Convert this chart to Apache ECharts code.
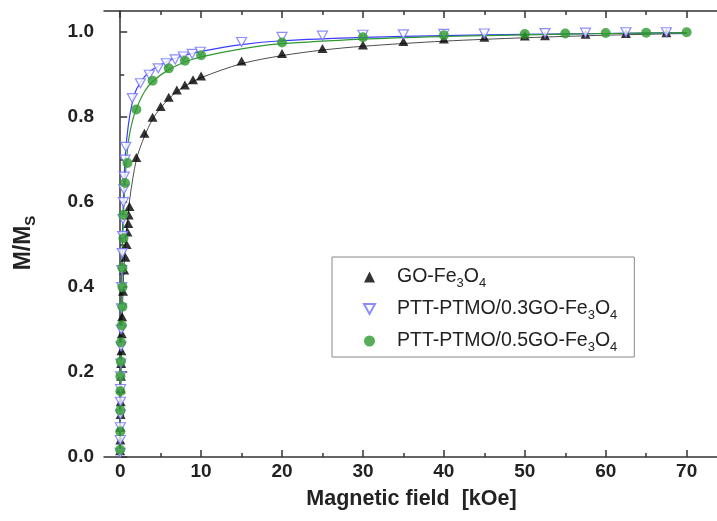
<!DOCTYPE html>
<html>
<head>
<meta charset="utf-8">
<script src="https://cdn.jsdelivr.net/npm/echarts@6/dist/echarts.min.js"></script>
<style>
  html, body { margin: 0; padding: 0; background: #fff; }
  #chart { width: 717px; height: 521px; }
</style>
</head>
<body>
<div id="chart"></div>
<script>
// ---- data ----
const seriesNames = ['GO-Fe3O4', 'PTT-PTMO/0.3GO-Fe3O4', 'PTT-PTMO/0.5GO-Fe3O4'];

const goPoints = [
  [0, 0.015], [0.02, 0.04], [0.03, 0.07], [0.05, 0.10], [0.06, 0.13], [0.08, 0.16],
  [0.10, 0.19], [0.12, 0.22], [0.15, 0.25], [0.20, 0.29], [0.25, 0.33], [0.35, 0.39],
  [0.50, 0.44], [0.65, 0.47], [0.80, 0.50], [0.90, 0.53], [1.0, 0.55], [1.05, 0.57],
  [1.15, 0.59], [2, 0.705], [3, 0.762], [4, 0.80], [5, 0.825], [6, 0.847], [7, 0.864],
  [8, 0.876], [9, 0.888], [10, 0.897], [15, 0.932], [20, 0.950], [25, 0.962],
  [30, 0.970], [35, 0.978], [40, 0.984], [45, 0.988], [50, 0.991], [52.5, 0.992],
  [57.5, 0.995], [62.5, 0.997], [67.5, 0.999]
];
const go03Points = [
  [0, 0.01], [0.01, 0.04], [0.02, 0.07], [0.03, 0.10], [0.04, 0.13], [0.05, 0.16],
  [0.06, 0.19], [0.08, 0.22], [0.10, 0.26], [0.12, 0.30], [0.15, 0.35], [0.18, 0.40],
  [0.20, 0.44], [0.25, 0.48], [0.30, 0.52], [0.35, 0.56], [0.40, 0.60], [0.45, 0.63],
  [0.50, 0.66], [0.60, 0.70], [0.70, 0.73], [1.5, 0.845], [2.5, 0.88], [3.6, 0.90],
  [4.7, 0.915], [5.7, 0.927], [6.8, 0.936], [7.8, 0.943], [8.9, 0.949], [9.9, 0.954],
  [15, 0.977], [20, 0.989], [25, 0.992], [30, 0.994], [35, 0.995], [40, 0.996],
  [45, 0.997], [52.5, 0.998], [57.5, 0.999], [62.5, 1.0], [67.5, 1.0]
];
const go05Points = [
  [0, 0.017], [0.01, 0.06], [0.02, 0.11], [0.02, 0.155], [0.03, 0.19], [0.08, 0.225],
  [0.10, 0.27], [0.20, 0.31], [0.28, 0.354], [0.28, 0.40], [0.28, 0.445], [0.40, 0.515],
  [0.40, 0.57], [0.60, 0.645], [0.90, 0.692], [2, 0.818], [4, 0.886], [6, 0.915],
  [8, 0.933], [10, 0.946], [20, 0.976], [30, 0.988], [40, 0.993], [50, 0.996],
  [55, 0.997], [60, 0.998], [65, 0.999], [70, 1.0]
];

// fitted curves
const goFit = [
  [0, 0], [0.1, 0.2], [0.2, 0.3], [0.5, 0.46], [0.75, 0.53], [1.2, 0.61], [2, 0.70],
  [3, 0.755], [4, 0.795], [5, 0.822], [6, 0.843], [7, 0.86], [8, 0.873], [10, 0.893],
  [15, 0.926], [20, 0.945], [25, 0.958], [30, 0.967], [40, 0.979], [50, 0.987],
  [60, 0.993], [70, 0.997]
];
const go03Fit = [
  [0, 0], [0.1, 0.3], [0.3, 0.54], [0.6, 0.70], [1, 0.78], [1.5, 0.835], [2, 0.865],
  [3, 0.895], [4, 0.912], [6, 0.933], [8, 0.946], [10, 0.955], [15, 0.971], [20, 0.980],
  [30, 0.988], [40, 0.992], [50, 0.995], [60, 0.997], [70, 0.999]
];
const go05Fit = [
  [0, 0], [0.1, 0.27], [0.3, 0.50], [0.6, 0.65], [1, 0.74], [1.5, 0.79], [2, 0.82],
  [3, 0.86], [4, 0.884], [6, 0.912], [8, 0.93], [10, 0.942], [15, 0.961], [20, 0.973],
  [30, 0.984], [40, 0.99], [50, 0.994], [60, 0.997], [70, 0.999]
];

const xTicks = [0, 10, 20, 30, 40, 50, 60, 70];
const xMinorTicks = [5, 15, 25, 35, 45, 55, 65];
const yTicks = [0, 0.2, 0.4, 0.6, 0.8, 1.0];
const yMinorTicks = [0.1, 0.3, 0.5, 0.7, 0.9];

// ---- chart ----
const FONT = 'Liberation Sans, Arial, sans-serif';
const AXIS_COLOR = '#333';
const chart = echarts.init(document.getElementById('chart'), null, { renderer: 'canvas' });

const legendRich = {
  pad: { width: 17 },
  n: { fontSize: 19.5, fontFamily: FONT, color: '#222', lineHeight: 23 },
  s: { fontSize: 13, fontFamily: FONT, color: '#222', lineHeight: 23, padding: [13, 0, 0, 0] }
};
function subFormat(name) {
  const base = name.replace(/Fe3O4$/, '');
  return '{pad|}{n|' + base + 'Fe}{s|3}{n|O}{s|4}';
}

function xAxisDef(position, values, len, showLine, showLabel) {
  return {
    type: 'value', position: position, min: -2, max: 74, gridIndex: 0,
    axisLine: { show: showLine, lineStyle: { color: AXIS_COLOR, width: 1.5 } },
    axisTick: { show: true, inside: true, length: len, customValues: values,
                lineStyle: { color: AXIS_COLOR, width: 1.5 } },
    axisLabel: { show: showLabel, customValues: values, margin: 5, fontSize: 19,
                 fontWeight: 'bold', fontFamily: FONT, color: '#222' },
    splitLine: { show: false }
  };
}
function yAxisDef(values, len, showLine, showLabel) {
  return {
    type: 'value', position: 'left', min: 0, max: 1.05, offset: 0,
    axisLine: { show: showLine, lineStyle: { color: AXIS_COLOR, width: 1.5 } },
    axisTick: { show: true, inside: true, length: len, customValues: values,
                lineStyle: { color: AXIS_COLOR, width: 1.5 } },
    axisLabel: { show: showLabel, customValues: values, margin: 10, fontSize: 19,
                 fontWeight: 'bold', fontFamily: FONT, color: '#222',
                 formatter: v => v.toFixed(1) },
    splitLine: { show: false }
  };
}

const xMain = xAxisDef('bottom', xTicks, 7, true, true);
xMain.name = 'Magnetic field  [kOe]';
xMain.nameLocation = 'middle';
xMain.nameGap = 30;
xMain.nameTextStyle = { fontSize: 21.5, fontWeight: 'bold', fontFamily: FONT, color: '#222', lineHeight: 24 };

const yMain = yAxisDef(yTicks, 7, true, true);
yMain.name = '{a|M/M}{b|S}';
yMain.nameLocation = 'middle';
yMain.nameRotate = 90;
yMain.nameGap = 67;
yMain.nameTextStyle = {
  padding: [0, 18, 0, 0],
  rich: {
    a: { fontSize: 23, fontWeight: 'bold', fontFamily: FONT, color: '#222', lineHeight: 26 },
    b: { fontSize: 15, fontWeight: 'bold', fontFamily: FONT, color: '#222', lineHeight: 26, padding: [14, 0, 0, 0] }
  }
};

const option = {
  backgroundColor: '#fff',
  animation: false,
  grid: { left: 104, top: 11, width: 615, height: 446, outerBoundsMode: 'none', containLabel: false },
  xAxis: [
    xMain,
    xAxisDef('bottom', xMinorTicks, 4, false, false),
    xAxisDef('top', xTicks, 7, true, false),
    xAxisDef('top', xMinorTicks, 4, false, false)
  ],
  yAxis: [
    yMain,
    yAxisDef(yMinorTicks, 4, false, false)
  ],
  legend: {
    orient: 'vertical', left: 332, top: 257,
    padding: [7, 17, 3, 31],
    itemWidth: 11, itemHeight: 11, itemGap: 6,
    borderColor: '#888', borderWidth: 1,
    data: [
      { name: seriesNames[0], icon: 'triangle' },
      { name: seriesNames[1], icon: 'path://M0,0L10,0L5,9Z' },
      { name: seriesNames[2], icon: 'circle' }
    ],
    formatter: subFormat,
    textStyle: { fontSize: 19.5, fontFamily: FONT, color: '#222', rich: legendRich }
  },
  series: [
    { name: 'fit0', type: 'line', data: goFit, smooth: 0.3, symbol: 'none', z: 1,
      lineStyle: { color: '#4d4d4d', width: 1 } },
    { name: 'fit1', type: 'line', data: go03Fit, smooth: 0.3, symbol: 'none', z: 1,
      lineStyle: { color: '#3c3cff', width: 1.2 } },
    { name: 'fit2', type: 'line', data: go05Fit, smooth: 0.3, symbol: 'none', z: 1,
      lineStyle: { color: '#2f9a2f', width: 1.2 } },
    { name: seriesNames[0], type: 'scatter', data: goPoints, symbol: 'triangle', symbolSize: [10, 9], z: 3,
      itemStyle: { color: '#000' } },
    { name: seriesNames[1], type: 'scatter', data: go03Points, symbol: 'triangle', symbolRotate: 180,
      symbolSize: [10, 9], z: 4,
      itemStyle: { color: '#fff', borderColor: '#6f6fff', borderWidth: 1.2 } },
    { name: seriesNames[2], type: 'scatter', data: go05Points, symbol: 'circle', symbolSize: 10, z: 5,
      itemStyle: { color: '#2e992e' } }
  ]
};
chart.setOption(option);
</script>
</body>
</html>
